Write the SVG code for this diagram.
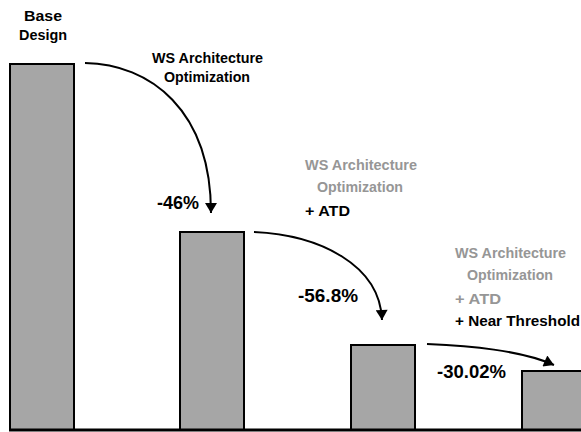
<svg xmlns="http://www.w3.org/2000/svg" width="581" height="432" viewBox="0 0 581 432">
<defs>
<style>
.bar{fill:#a6a6a6;stroke:#000;stroke-width:2}
.t{font-family:"Liberation Sans",Arial,sans-serif;font-weight:bold;font-size:15px;fill:#000}
.g{fill:#969696}
.p{font-family:"Liberation Sans",Arial,sans-serif;font-weight:bold;font-size:19px;fill:#000}
.c{fill:none;stroke:#000;stroke-width:2}
</style>
<marker id="ah" viewBox="0 0 10 12" refX="10" refY="6" markerWidth="11" markerHeight="12" markerUnits="userSpaceOnUse" orient="auto">
<path d="M0,0 L10,6 L0,12 z" fill="#000"/>
</marker>
</defs>
<rect width="581" height="432" fill="#fff"/>
<g id="bar1"><rect class="bar" x="10" y="64" width="64" height="366"/></g>
<g id="bar2"><rect class="bar" x="180" y="232" width="64" height="198"/></g>
<g id="bar3"><rect class="bar" x="351" y="345" width="64" height="85"/></g>
<g id="bar4"><rect class="bar" x="522" y="371" width="64" height="59"/></g>
<line x1="9" y1="430" x2="581" y2="430" stroke="#000" stroke-width="3"/>
<g id="label-base">
<text class="t" x="24" y="21" textLength="38" lengthAdjust="spacingAndGlyphs">Base</text>
<text class="t" x="19" y="40" textLength="48" lengthAdjust="spacingAndGlyphs">Design</text>
</g>
<g id="label-ws1">
<text class="t" x="152" y="63" textLength="111" lengthAdjust="spacingAndGlyphs">WS Architecture</text>
<text class="t" x="164" y="82" textLength="86" lengthAdjust="spacingAndGlyphs">Optimization</text>
</g>
<g id="label-ws2">
<text class="t g" x="305" y="170" textLength="112" lengthAdjust="spacingAndGlyphs">WS Architecture</text>
<text class="t g" x="317" y="192" textLength="86" lengthAdjust="spacingAndGlyphs">Optimization</text>
<text class="t" x="305" y="216" textLength="45" lengthAdjust="spacingAndGlyphs">+ ATD</text>
</g>
<g id="label-ws3">
<text class="t g" x="455" y="258" textLength="111" lengthAdjust="spacingAndGlyphs">WS Architecture</text>
<text class="t g" x="467" y="280" textLength="86" lengthAdjust="spacingAndGlyphs">Optimization</text>
<text class="t g" x="455" y="304" textLength="46" lengthAdjust="spacingAndGlyphs">+ ATD</text>
<text class="t" x="455" y="326" textLength="125" lengthAdjust="spacingAndGlyphs">+ Near Threshold</text>
</g>
<g id="pct">
<text class="p" x="157" y="209" textLength="42" lengthAdjust="spacingAndGlyphs">-46%</text>
<text class="p" x="298" y="302" textLength="60" lengthAdjust="spacingAndGlyphs">-56.8%</text>
<text class="p" x="437" y="378" textLength="69" lengthAdjust="spacingAndGlyphs">-30.02%</text>
</g>
<g id="connectors">
<path class="c" d="M85,63 C150,64 211,110 211,213" marker-end="url(#ah)"/>
<path class="c" d="M254,232 C320,235 380,265 382,320" marker-end="url(#ah)"/>
<path class="c" d="M427,344 C470,346 520,350 554,365" marker-end="url(#ah)"/>
</g>
</svg>
